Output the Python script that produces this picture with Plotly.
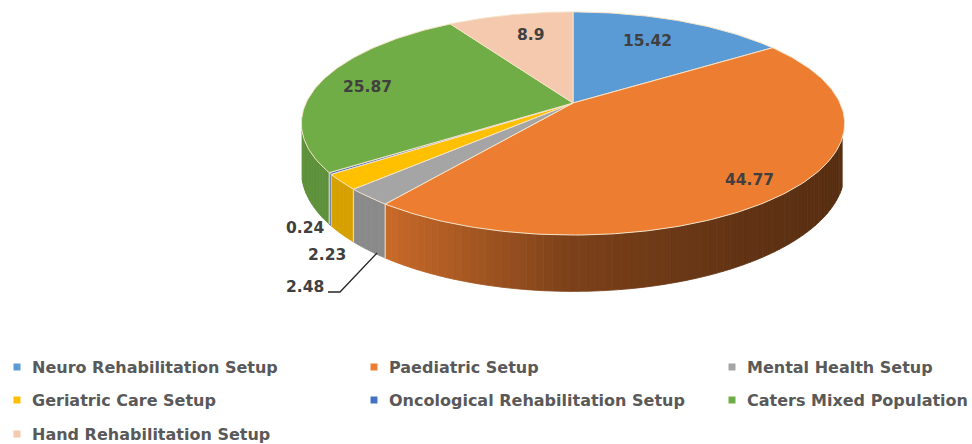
import numpy as np
import plotly.graph_objects as go

# ---------- data ----------
categories = ["Neuro Rehabilitation Setup", "Paediatric Setup", "Mental Health Setup",
              "Geriatric Care Setup", "Oncological Rehabilitation Setup",
              "Caters Mixed Population", "Hand Rehabilitation Setup"]
values = [15.42, 44.77, 2.48, 2.23, 0.24, 25.87, 8.9]
colors = ["#5B9BD5", "#ED7D31", "#A5A5A5", "#FFC000", "#4472C4", "#70AD47", "#F4C9AE"]

# ---------- projection of the tilted disc onto the page ----------
CX, CY = 573.0, 103.0
A, B, K = 267.0, 107.8, 0.1836
DEPTH = 46.0
EDGE = "#F5E3C8"
FONT = "DejaVu Sans"
TEXT = "#404040"
LEG = "#595959"


def project(theta, r=1.0, z=0.0):
    u = r * np.sin(theta)
    v = -r * np.cos(theta)
    w = 1 - K * v
    return CX + A * u / w, CY + (B * v + z) / w


def hex_rgb(h):
    return np.array([int(h[i:i + 2], 16) for i in (1, 3, 5)], float)


def shade(color, x):
    f = np.interp(x, [390, 573, 730, 845], [0.84, 0.52, 0.42, 0.37])
    return "rgb(%d,%d,%d)" % tuple(hex_rgb(color) * f)


fig = go.Figure()
fractions = np.array(values) / sum(values)
edges = np.concatenate([[0], np.cumsum(fractions)]) * 2 * np.pi

# side wall (front part only, the top face covers the rest)
lo, hi = np.pi * 0.60, np.pi * 1.42
for i, c in enumerate(colors):
    a0, a1 = max(edges[i], lo), min(edges[i + 1], hi)
    if a1 <= a0:
        continue
    n = max(1, int((a1 - a0) / np.radians(1.5)))
    cuts = np.linspace(a0, a1, n + 1)
    for s in range(n):
        t = np.linspace(cuts[s], cuts[s + 1], 4)
        xt, yt = project(t)
        xb, yb = project(t[::-1], z=DEPTH)
        col = shade(c, xt.mean())
        fig.add_trace(go.Scatter(
            x=np.r_[xt, xb, xt[0]], y=np.r_[yt, yb, yt[0]], mode="lines", fill="toself",
            fillcolor=col, line=dict(width=0.8, color=col), showlegend=False, hoverinfo="skip"))
    for a in (edges[i], edges[i + 1]):
        if lo < a < hi:
            x0, y0 = project(a)
            x1, y1 = project(a, z=DEPTH)
            fig.add_trace(go.Scatter(x=[x0, x1], y=[y0, y1], mode="lines",
                                     line=dict(color=EDGE, width=1.2), opacity=0.8,
                                     showlegend=False, hoverinfo="skip"))

# top faces
for i, c in enumerate(colors):
    n = max(3, int((edges[i + 1] - edges[i]) / np.radians(1)))
    t = np.linspace(edges[i], edges[i + 1], n)
    xs, ys = project(t)
    fig.add_trace(go.Scatter(
        x=np.r_[CX, xs, CX], y=np.r_[CY, ys, CY], mode="lines", fill="toself", fillcolor=c,
        line=dict(color=EDGE, width=1), showlegend=False, hoverinfo="skip"))

# legend key: squares and names
legend_xy = [(17, 367), (374, 367), (732, 367), (17, 400), (374, 400), (732, 400), (17, 434)]
for name, c, (x, y) in zip(categories, colors, legend_xy):
    fig.add_trace(go.Scatter(x=[x], y=[y], mode="markers", name=name, showlegend=False,
                             marker=dict(symbol="square", size=7, color=c), hoverinfo="name"))
annotations = [dict(x=x + 12.5, y=y, text=name, showarrow=False, xref="x", yref="y", xanchor="left",
                    font=dict(family=FONT, size=16, color=LEG, weight="bold"))
               for name, (x, y) in zip(categories, legend_xy)]

# value labels
label_xy = [(647, 41), (749, 180), (305, 287), (327, 255), (305, 228), (367, 87), (530, 35)]
annotations += [dict(x=x, y=y, text=str(v), showarrow=False, xref="x", yref="y",
                     font=dict(family=FONT, size=15.5, color=TEXT, weight="bold"))
                for (x, y), v in zip(label_xy, values)]

fig.update_layout(
    width=972, height=444, margin=dict(l=0, r=0, t=0, b=0, autoexpand=False),
    paper_bgcolor="white", plot_bgcolor="white", showlegend=False,
    xaxis=dict(range=[0, 972], visible=False, fixedrange=True),
    yaxis=dict(range=[444, 0], visible=False, fixedrange=True),
    annotations=annotations,
    shapes=[dict(type="path", path="M 328 292 L 340 292 L 377 253",
                 line=dict(color="#262626", width=1.3))],
)
fig.write_html("out.html", config=dict(displayModeBar=False),
               post_script="document.body.style.margin='0';document.documentElement.style.overflow='hidden';")
